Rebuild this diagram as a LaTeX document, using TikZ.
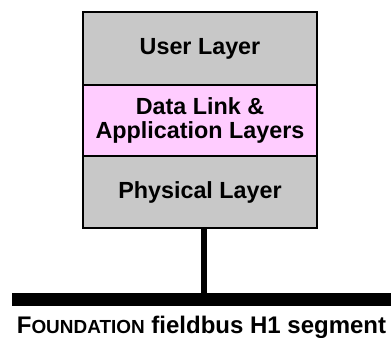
\documentclass[tikz,border=0pt]{standalone}
\usepackage{fontspec}
\setmainfont{Liberation Sans}
\definecolor{layergrey}{RGB}{200,200,200}
\definecolor{layerpink}{RGB}{255,204,255}
\tikzset{
  layer/.style={draw=black, line width=1.1pt, minimum width=175.5pt, align=center,
    inner sep=0pt, font=\fontsize{17.5}{17.5}\selectfont\bfseries},
  linkbox/.style={layer, fill=layerpink, line width=2.2pt},
  stem/.style={line width=4.5pt},
  bus/.style={line width=9.75pt}
}
\begin{document}
\begin{tikzpicture}[x=0.75pt,y=0.75pt,yscale=-1,xscale=1]
\useasboundingbox (0,0) rectangle (391,337);

% protocol stack
\node[layer, fill=layergrey, minimum height=54.75pt] (user) at (200,48.5) {User Layer};
\node[layer, fill=layergrey, minimum height=54pt] (phys) at (200,192) {Physical Layer};
\node[linkbox, minimum height=53.25pt] (dll) at (200,120.5) {Data Link \&\\[0.5pt]Application Layers};

% H1 segment
\coordinate (busL) at (12,299.5);
\coordinate (busR) at (391,299.5);
\draw[bus] (busL) -- (busR);
\draw[stem] ([xshift=3pt]phys.south) -- ([xshift=3pt]phys.south |- busL);

% Text Node
\node[anchor=base, font=\fontsize{18}{18}\selectfont\bfseries] (seg) at (201.5,333)
  {F{\fontsize{14.2}{14}\selectfont OUNDATION} fieldbus H1 segment};

\end{tikzpicture}
\end{document}
